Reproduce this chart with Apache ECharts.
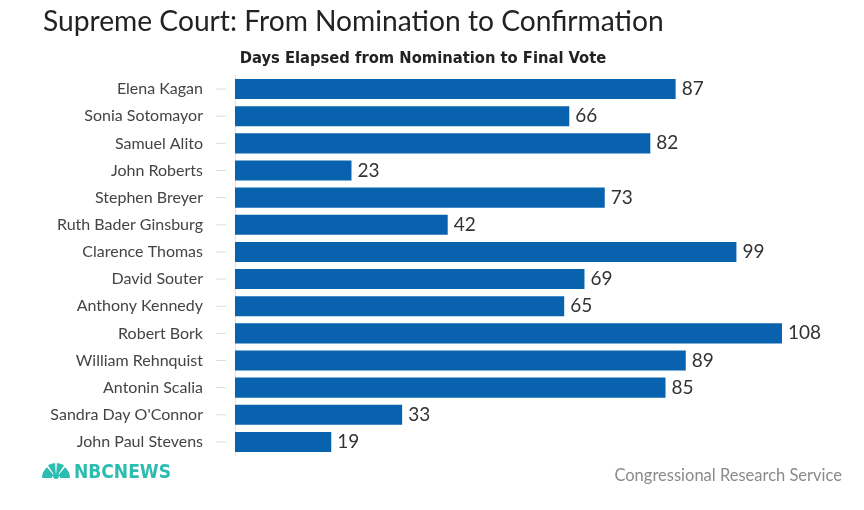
<!DOCTYPE html>
<html><head><meta charset="utf-8">
<script src="https://cdn.jsdelivr.net/npm/echarts@6/dist/echarts.min.js"></script>
<style>html,body{margin:0;padding:0;background:#fff}#c{width:864px;height:510px}</style>
</head><body><div id="c"></div>
<script>
const justices = ["Elena Kagan","Sonia Sotomayor","Samuel Alito","John Roberts","Stephen Breyer","Ruth Bader Ginsburg","Clarence Thomas","David Souter","Anthony Kennedy","Robert Bork","William Rehnquist","Antonin Scalia","Sandra Day O'Connor","John Paul Stevens"];
const days = [87,66,82,23,73,42,99,69,65,108,89,85,33,19];

const chart = echarts.init(document.getElementById('c'));
const teal = '#2cbcb0';
chart.setOption({
  backgroundColor: '#fff',
  animation: false,
  title: [
    {text: 'Supreme Court: From Nomination to Confirmation', left: 38, top: 3,
     textStyle: {fontFamily: 'Lato', fontWeight: 'normal', fontSize: 28.2, color: '#222'}},
    {text: 'Days Elapsed from Nomination to Final Vote', left: 418, top: 46, textAlign: 'center',
     textStyle: {fontFamily: 'DejaVu Sans Condensed', fontWeight: 'bold', fontSize: 16.4, color: '#222'}}
  ],
  grid: {left: 235, right: 82, top: 75.5, bottom: 54.5, containLabel: false},
  xAxis: {type: 'value', min: 0, max: 108, show: false},
  yAxis: {
    type: 'category', data: justices, inverse: true,
    axisLine: {show: true, lineStyle: {color: '#e3e3e3', width: 1}},
    axisTick: {show: false},
    axisLabel: {
      margin: 9,
      formatter: v => '{n|' + v + '}{g|}{t|}',
      rich: {
        n: {fontFamily: 'Lato', fontSize: 16, color: '#444'},
        g: {width: 13},
        t: {width: 10, height: 1, backgroundColor: '#dcdcdc'}
      }
    }
  },
  series: [{
    type: 'bar', data: days, barCategoryGap: '26%',
    itemStyle: {color: '#0862ad'},
    label: {show: true, position: 'right', distance: 6,
      fontFamily: 'Lato', fontSize: 19, color: '#333'}
  }],
  graphic: [
    {type: 'group', left: 42, top: 463, children: [
      {type: 'circle', shape: {cx: 14, cy: 14, r: 3}, style: {fill: teal}},
      {type: 'sector', shape: {cx: 14, cy: 16, r: 14, r0: 4, startAngle: Math.PI*1.0, endAngle: Math.PI*1.28}, style: {fill: teal}},
      {type: 'sector', shape: {cx: 14, cy: 16, r: 15, r0: 4, startAngle: Math.PI*1.32, endAngle: Math.PI*1.48}, style: {fill: teal}},
      {type: 'sector', shape: {cx: 14, cy: 16, r: 15, r0: 4, startAngle: Math.PI*1.52, endAngle: Math.PI*1.68}, style: {fill: teal}},
      {type: 'sector', shape: {cx: 14, cy: 16, r: 14, r0: 4, startAngle: Math.PI*1.72, endAngle: Math.PI*2.0}, style: {fill: teal}},
      {type: 'text', left: 32, top: 2, style: {text: 'NBCNEWS', fontFamily: 'DejaVu Sans Condensed', fontWeight: 'bold', fontSize: 19, fill: teal}}
    ]},
    {type: 'text', right: 22, top: 467, style: {text: 'Congressional Research Service', fontFamily: 'Lato', fontSize: 16.5, fill: '#8a8a8a'}}
  ]
});
</script></body></html>
